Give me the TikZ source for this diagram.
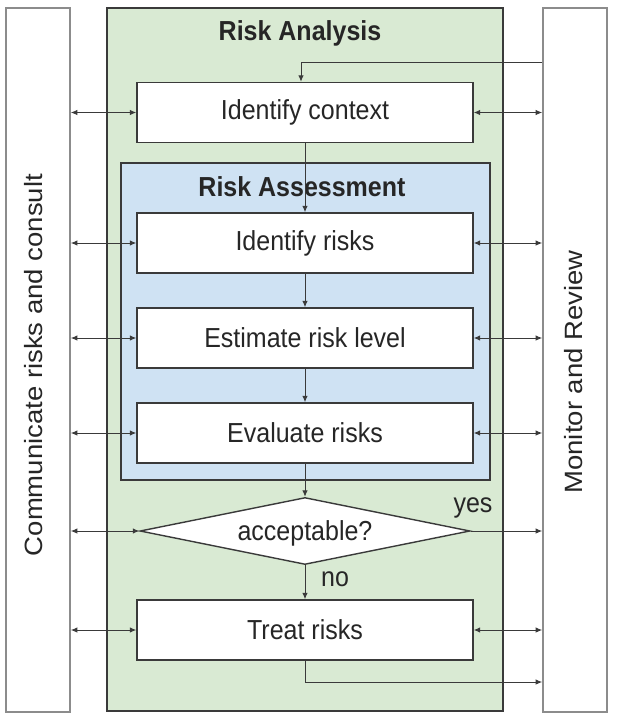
\documentclass[tikz,border=0pt]{standalone}
\usepackage{fontspec}
\setmainfont{Liberation Sans}
\usetikzlibrary{arrows.meta,shapes.geometric}
\definecolor{gfill}{HTML}{D9EAD3}
\definecolor{bfill}{HTML}{CFE2F3}
\definecolor{edgec}{HTML}{3A3A3A}
\definecolor{sidec}{HTML}{8C8C8C}
\definecolor{txtc}{HTML}{262626}
\newcommand{\vsc}[1]{\scalebox{1}[1.1]{#1}}
\newcommand{\hsc}[1]{\scalebox{1.1}[1]{#1}}
\begin{document}
\begin{tikzpicture}[x=1pt,y=-1pt,
 txt/.style={font=\fontsize{25}{30}\selectfont, text=txtc, inner sep=0pt},
 stepbox/.style={draw=edgec, line width=1.4pt, fill=white, minimum width=336pt, minimum height=60pt, inner sep=0pt, txt},
 sidebox/.style={draw=sidec, line width=1.6pt, fill=white, minimum width=64pt, minimum height=704pt, inner sep=0pt},
 conn/.style={draw=edgec, line width=1pt},
 arr/.style={conn, -{Latex[length=6.5pt,width=5.5pt]}},
 darr/.style={conn, {Latex[length=6.5pt,width=5.5pt]}-{Latex[length=6.5pt,width=5.5pt]}},
 ]
\useasboundingbox (0,0) rectangle (617,723);
% side boxes
\node[sidebox] (comm) at (38,360) {};
\node[sidebox] (mon) at (575,360) {};
\node[txt, rotate=90] (commt) at (34,365) {\hsc{Communicate risks and consult}};
\node[txt, rotate=90] (mont) at (574,372) {\hsc{Monitor and Review}};
% containers
\node[draw=edgec, line width=2.4pt, fill=gfill, minimum width=396pt, minimum height=703pt, inner sep=0pt] (ra) at (305,359.5) {};
\node[draw=edgec, line width=2.2pt, fill=bfill, minimum width=369pt, minimum height=317pt, inner sep=0pt] (rass) at (305.5,321.5) {};
\node[txt, font=\fontsize{25}{30}\selectfont\bfseries] (rat) at (300,33) {\vsc{Risk Analysis}};
\node[txt, font=\fontsize{25}{30}\selectfont\bfseries] (rast) at (302,187) {\vsc{Risk Assessment}};
% steps
\node[stepbox] (ctx) at (305,112.5) {\vsc{Identify context}};
\node[stepbox] (idr) at (305,243) {\vsc{Identify risks}};
\node[stepbox] (est) at (305,338) {\vsc{Estimate risk level}};
\node[stepbox] (evr) at (305,433) {\vsc{Evaluate risks}};
\node[draw=edgec, line width=1.4pt, fill=white, shape=diamond, aspect=4.9, minimum width=330pt, minimum height=67pt, inner sep=0pt, txt] (acc) at (305,531) {};
\node[txt] (acct) at (305,533) {\vsc{acceptable?}};
\node[stepbox] (trt) at (305,630) {\vsc{Treat risks}};
\node[txt] (yes) at (473,508) {\vsc{yes}};
\node[txt] (no) at (335,579) {\vsc{no}};
% flow arrows
\coordinate (topy) at (0,62);
\coordinate (topx) at (301,0);
\coordinate (boty) at (0,682);
\draw[arr] (mon.west |- topy) -| (topx |- ctx.north);
\draw[arr] (ctx.south) -- (idr.north);
\draw[arr] (idr.south) -- (est.north);
\draw[arr] (est.south) -- (evr.north);
\draw[arr] (evr.south) -- (acc.north);
\draw[arr] (acc.south) -- (trt.north);
\draw[arr] (acc.east) -- (mon.west |- acc.east);
\draw[arr] (trt.south) |- (mon.west |- boty);
% side arrows
\foreach \n in {ctx,idr,est,evr,trt}{
  \draw[darr] (comm.east |- \n) -- (\n.west);
  \draw[darr] (\n.east) -- (mon.west |- \n);
}
\draw[darr] (comm.east |- acc) -- (acc.west);
\end{tikzpicture}
\end{document}
